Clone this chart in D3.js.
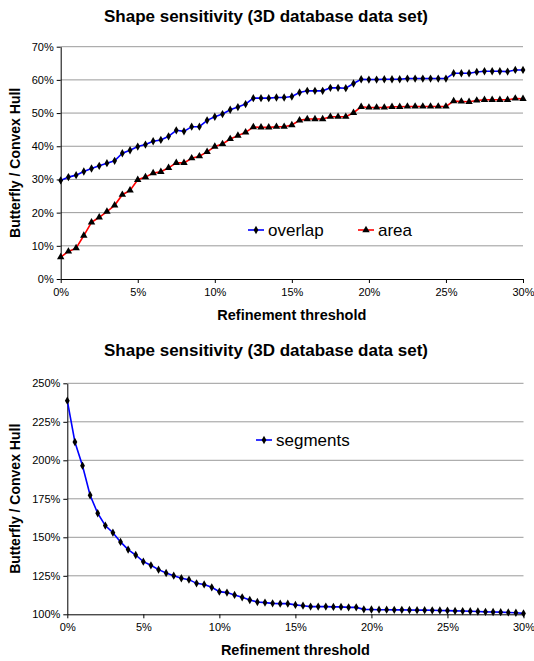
<!DOCTYPE html>
<html>
<head>
<meta charset="utf-8">
<script src="https://cdn.jsdelivr.net/npm/d3@7/dist/d3.min.js"></script>
<style>
  html, body { margin: 0; padding: 0; background: #fff; }
  svg { display: block; font-family: "Liberation Sans", Arial, sans-serif; }
</style>
</head>
<body>
<svg id="chart" width="534" height="661"></svg>
<script>
// ---- Data ----
const chartTitle = "Shape sensitivity (3D database data set)";
const xTitle = "Refinement threshold";
const yTitle = "Butterfly / Convex Hull";

// refinement threshold (%)
const thresholds = [0,0.5,1,1.5,2,2.5,3,3.5,4,4.5,5,5.5,6,6.5,7,7.5,8,8.5,9,9.5,
  10,10.5,11,11.5,12,12.5,13,13.5,14,14.5,15,15.5,16,16.5,17,17.5,18,18.5,19,19.5,
  20,20.5,21,21.5,22,22.5,23,23.5,24,24.5,25,25.5,26,26.5,27,27.5,28,28.5,29,29.5,30];

// top chart series (%)
const overlap = [29.7,30.7,31.3,32.4,33.3,34.1,34.9,35.6,37.9,38.8,39.9,40.5,41.5,41.9,43.0,44.8,44.5,45.9,45.9,47.8,
  48.9,49.7,51.0,51.8,52.7,54.5,54.5,54.5,54.7,54.7,55.0,56.2,56.7,56.7,56.7,57.6,57.6,57.5,58.9,60.2,
  60.1,60.1,60.2,60.2,60.2,60.4,60.4,60.4,60.4,60.4,60.4,62.0,62.0,62.0,62.4,62.6,62.6,62.6,62.5,63.0,63.0];
const area = [6.6,8.3,9.3,13.1,17.1,18.6,20.3,22.2,25.4,26.7,29.9,30.7,31.9,32.3,33.5,35.0,35.0,36.4,37.0,38.3,
  39.9,40.7,42.2,43.2,44.2,45.8,45.7,45.7,45.9,45.9,46.4,47.8,48.2,48.2,48.2,48.9,48.9,48.9,50.1,51.9,
  51.7,51.7,51.7,51.9,51.9,52.0,52.0,52.0,52.0,52.0,52.0,53.6,53.5,53.4,53.8,54.0,54.0,54.0,54.0,54.4,54.3];

// bottom chart series (%)
const segments = [238.7,211.9,196.5,177.3,165.6,157.6,153.0,147.0,142.0,138.5,134.2,131.8,129.0,126.8,125.1,123.4,122.5,120.1,119.4,117.5,
  114.7,114.1,112.6,111.0,109.3,108.0,107.6,107.1,106.9,106.9,106.1,105.6,105.0,105.0,105.0,104.8,104.8,104.5,104.5,103.2,
  103.1,103.0,103.0,102.9,102.9,102.8,102.7,102.7,102.6,102.5,102.4,102.2,102.1,102.0,101.8,101.6,101.5,101.4,101.2,101.0,100.6];

const xTicks = [0,5,10,15,20,25,30];
const yTicksTop = [0,10,20,30,40,50,60,70];
const yTicksBottom = [100,125,150,175,200,225,250];

// ---- Drawing ----
const svg = d3.select("#chart");

function drawPanel(cfg) {
  const g = svg.append("g");
  const x = d3.scaleLinear().domain([0, 30]).range([cfg.x0, cfg.x1]);
  const y = d3.scaleLinear().domain(cfg.yDomain).range([cfg.y0, cfg.y1]);

  // title
  g.append("text").attr("x", 266).attr("y", cfg.titleY)
    .attr("text-anchor", "middle").attr("font-weight", "bold")
    .attr("font-size", "17px").attr("fill", "#000").text(chartTitle);

  // gridlines
  g.append("g").selectAll("line").data(cfg.yTicks.slice(1)).join("line")
    .attr("x1", cfg.x0).attr("x2", cfg.x1)
    .attr("y1", d => y(d)).attr("y2", d => y(d))
    .attr("stroke", "#9a9a9a").attr("stroke-width", 1);

  // y axis
  const yAxis = d3.axisLeft(y).tickValues(cfg.yTicks).tickFormat(d => d + "%")
    .tickSizeInner(4).tickSizeOuter(0).tickPadding(3);
  const ya = g.append("g").attr("transform", `translate(${cfg.x0},0)`).call(yAxis);
  ya.select(".domain").attr("stroke", "#000");
  ya.selectAll(".tick line").attr("stroke", "#000");
  ya.selectAll("text").attr("font-size", "11px").attr("fill", "#000")
    .attr("font-family", "Liberation Sans, Arial, sans-serif");

  // x axis
  const xAxis = d3.axisBottom(x).tickValues(xTicks).tickFormat(d => d + "%")
    .tickSizeInner(4).tickSizeOuter(0).tickPadding(5);
  const xa = g.append("g").attr("transform", `translate(0,${cfg.y0})`).call(xAxis);
  xa.select(".domain").attr("stroke", "#000");
  xa.selectAll(".tick line").attr("stroke", "#000");
  xa.selectAll("text").attr("font-size", "11px").attr("fill", "#000")
    .attr("font-family", "Liberation Sans, Arial, sans-serif");

  // axis titles
  g.append("text").attr("x", (cfg.x0 + cfg.x1) / 2).attr("y", cfg.y0 + 41)
    .attr("text-anchor", "middle").attr("font-weight", "bold").attr("font-size", "14.5px")
    .text(xTitle);
  g.append("text")
    .attr("transform", `translate(20,${(cfg.y0 + cfg.y1) / 2}) rotate(-90)`)
    .attr("text-anchor", "middle").attr("font-weight", "bold").attr("font-size", "14px")
    .text(yTitle);

  // series
  cfg.series.forEach(s => {
    const pts = thresholds.map((t, i) => [x(t), y(s.values[i])]);
    g.append("path").attr("d", d3.line()(pts))
      .attr("fill", "none").attr("stroke", s.color).attr("stroke-width", 1.6);
    g.append("g").selectAll("path").data(pts).join("path")
      .attr("transform", d => `translate(${d[0]},${d[1]})`)
      .attr("d", d3.symbol().type(s.symbol).size(s.symbolSize))
      .attr("fill", "#000");
    // legend
    const lg = g.append("g").attr("transform", `translate(${s.lx},${s.ly})`);
    lg.append("line").attr("x1", 0).attr("x2", 16).attr("y1", 0).attr("y2", 0)
      .attr("stroke", s.color).attr("stroke-width", 1.6);
    lg.append("path").attr("transform", "translate(8,0)")
      .attr("d", d3.symbol().type(s.symbol).size(s.symbolSize)).attr("fill", "#000");
    lg.append("text").attr("x", 20).attr("y", 5.5).attr("font-size", "17px")
      .attr("fill", "#000").text(s.name);
  });
}

drawPanel({
  x0: 60.7, x1: 523, y0: 279, y1: 46.7, yDomain: [0, 70], yTicks: yTicksTop,
  titleY: 22,
  series: [
    { name: "overlap", values: overlap, color: "#0000ff", symbol: d3.symbolDiamond, symbolSize: 20, lx: 248, ly: 230 },
    { name: "area", values: area, color: "#ff0000", symbol: d3.symbolTriangle, symbolSize: 24, lx: 358, ly: 230 }
  ]
});

drawPanel({
  x0: 67.3, x1: 523.5, y0: 614.3, y1: 383.3, yDomain: [100, 250], yTicks: yTicksBottom,
  titleY: 356,
  series: [
    { name: "segments", values: segments, color: "#0000ff", symbol: d3.symbolDiamond, symbolSize: 20, lx: 256, ly: 440 }
  ]
});
</script>
</body>
</html>
